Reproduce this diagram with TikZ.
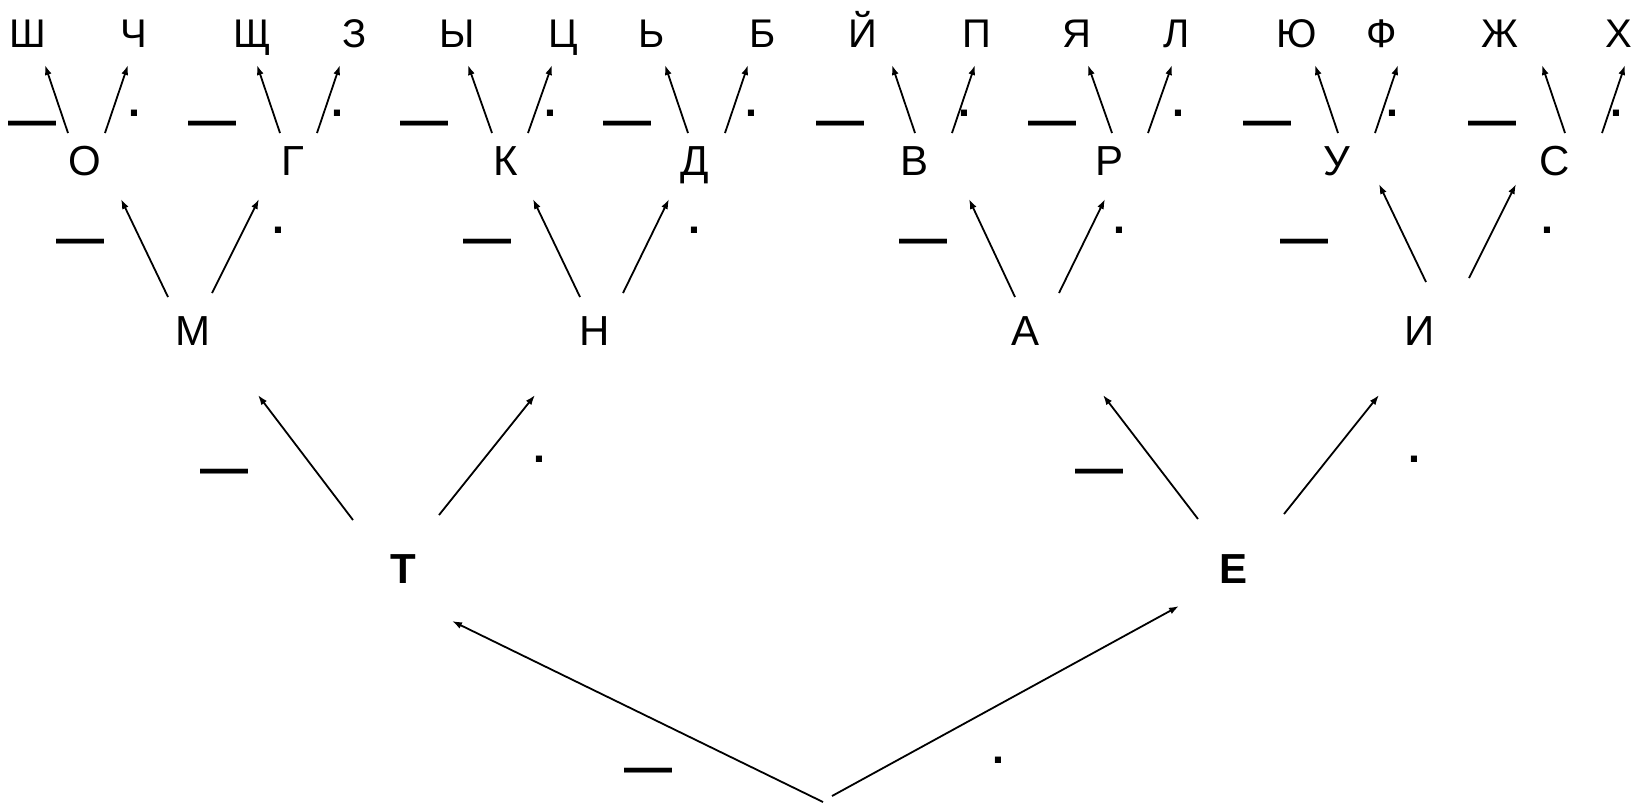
\documentclass[tikz,border=0pt]{standalone}
\usepackage{fontspec}
\setmainfont{Liberation Sans}
\usetikzlibrary{arrows.meta}
\begin{document}
\begin{tikzpicture}[x=0.5pt,y=-0.5pt,
  leaf/.style={anchor=base, inner sep=0pt, font=\fontsize{20}{20}\selectfont},
  inode/.style={anchor=base, inner sep=0pt, font=\fontsize{21}{21}\selectfont},
  bnode/.style={anchor=base, inner sep=0pt, font=\fontsize{21}{21}\selectfont\bfseries},
  dashlbl/.style={anchor=mid, inner sep=0pt, font=\fontsize{24}{24}\selectfont\bfseries},
  dotlbl/.style={anchor=center, inner sep=0pt, font=\fontsize{21.5}{21.5}\selectfont\bfseries},
  arr/.style={-{Latex[length=5pt,width=3.5pt]}, line width=0.9pt}]
\useasboundingbox (0,0) rectangle (1637,805);
% leaves
\node[leaf] (l1) at (28,47) {Ш};
\node[leaf] (l2) at (134,47) {Ч};
\node[leaf] (l3) at (252,47) {Щ};
\node[leaf] (l4) at (355,47) {З};
\node[leaf] (l5) at (457,47) {Ы};
\node[leaf] (l6) at (563,47) {Ц};
\node[leaf] (l7) at (652,47) {Ь};
\node[leaf] (l8) at (763,47) {Б};
\node[leaf] (l9) at (863,47) {Й};
\node[leaf] (l10) at (977,47) {П};
\node[leaf] (l11) at (1077,47) {Я};
\node[leaf] (l12) at (1177,47) {Л};
\node[leaf] (l13) at (1297,47) {Ю};
\node[leaf] (l14) at (1382,47) {Ф};
\node[leaf] (l15) at (1500,47) {Ж};
\node[leaf] (l16) at (1619,47) {Х};
% level 4
\node[inode] (o) at (85,175) {О};
\node[inode] (g) at (293,175) {Г};
\node[inode] (k) at (506,175) {К};
\node[inode] (d) at (695,175) {Д};
\node[inode] (v) at (914,175) {В};
\node[inode] (r) at (1109,175) {Р};
\node[inode] (u) at (1337,175) {У};
\node[inode] (s) at (1555,175) {С};
% level 3
\node[inode] (m) at (193,345) {М};
\node[inode] (n) at (595,345) {Н};
\node[inode] (a) at (1025,345) {А};
\node[inode] (i) at (1420,345) {И};
% level 2
\node[bnode] (t) at (403,583) {Т};
\node[bnode] (e) at (1233,583) {Е};
\coordinate (root) at (827,800);
% labels level 4
\foreach \x/\nm in {33/q1,212/q2,424/q3,627/q4,840/q5,1052/q6,1267/q7,1492/q8}
  \node[dashlbl] (\nm) at (\x,131) {—};
\foreach \x/\nm in {134/p1,337/p2,550/p3,751/p4,964/p5,1178/p6,1392/p7,1616/p8}
  \node[dotlbl] (\nm) at (\x,113) {.};
% labels level 3
\foreach \x/\nm in {80/q9,487/q10,923/q11,1304/q12}
  \node[dashlbl] (\nm) at (\x,249) {—};
\foreach \x/\nm in {278/p9,694/p10,1119/p11,1547/p12}
  \node[dotlbl] (\nm) at (\x,230) {.};
% labels level 2
\node[dashlbl] (q13) at (224,479) {—};
\node[dotlbl] (p13) at (539,459) {.};
\node[dashlbl] (q14) at (1099,479) {—};
\node[dotlbl] (p14) at (1414,459) {.};
% labels root
\node[dashlbl] (q15) at (648,778) {—};
\node[dotlbl] (p15) at (998,760) {.};
% root arrows
\draw[arr] ([shift={(-4,2)}]root) -- ([shift={(49,38)}]t.base);
\draw[arr] ([shift={(5,-4)}]root) -- ([shift={(-54,23)}]e.base);
% level 2 arrows
\draw[arr] ([shift={(-50,-63)}]t.base) -- ([shift={(65,50)}]m.base);
\draw[arr] ([shift={(36,-68)}]t.base) -- ([shift={(-60,50)}]n.base);
\draw[arr] ([shift={(-35,-64)}]e.base) -- ([shift={(78,50)}]a.base);
\draw[arr] ([shift={(51,-69)}]e.base) -- ([shift={(-41,50)}]i.base);
% level 3 arrows
\draw[arr] ([shift={(-25,-48)}]m.base) -- ([shift={(36,24)}]o.base);
\draw[arr] ([shift={(19,-52)}]m.base) -- ([shift={(-34,24)}]g.base);
\draw[arr] ([shift={(-15,-48)}]n.base) -- ([shift={(27,24)}]k.base);
\draw[arr] ([shift={(28,-52)}]n.base) -- ([shift={(-26,24)}]d.base);
\draw[arr] ([shift={(-10,-48)}]a.base) -- ([shift={(55,24)}]v.base);
\draw[arr] ([shift={(34,-52)}]a.base) -- ([shift={(-4,24)}]r.base);
\draw[arr] ([shift={(6,-63)}]i.base) -- ([shift={(42,9)}]u.base);
\draw[arr] ([shift={(49,-67)}]i.base) -- ([shift={(-39,9)}]s.base);
% level 4 arrows
\draw[arr] ([shift={(-17,-42)}]o.base) -- ([shift={(17,18)}]l1.base);
\draw[arr] ([shift={(20,-42)}]o.base) -- ([shift={(-6,18)}]l2.base);
\draw[arr] ([shift={(-13,-42)}]g.base) -- ([shift={(5,18)}]l3.base);
\draw[arr] ([shift={(24,-42)}]g.base) -- ([shift={(-15,18)}]l4.base);
\draw[arr] ([shift={(-14,-42)}]k.base) -- ([shift={(11,18)}]l5.base);
\draw[arr] ([shift={(22,-42)}]k.base) -- ([shift={(-11,18)}]l6.base);
\draw[arr] ([shift={(-7,-42)}]d.base) -- ([shift={(13,18)}]l7.base);
\draw[arr] ([shift={(30,-42)}]d.base) -- ([shift={(-15,18)}]l8.base);
\draw[arr] ([shift={(1,-42)}]v.base) -- ([shift={(29,18)}]l9.base);
\draw[arr] ([shift={(38,-42)}]v.base) -- ([shift={(-2,18)}]l10.base);
\draw[arr] ([shift={(3,-42)}]r.base) -- ([shift={(11,18)}]l11.base);
\draw[arr] ([shift={(39,-42)}]r.base) -- ([shift={(-5,18)}]l12.base);
\draw[arr] ([shift={(1,-42)}]u.base) -- ([shift={(18,18)}]l13.base);
\draw[arr] ([shift={(38,-42)}]u.base) -- ([shift={(16,18)}]l14.base);
\draw[arr] ([shift={(10,-42)}]s.base) -- ([shift={(42,18)}]l15.base);
\draw[arr] ([shift={(47,-42)}]s.base) -- ([shift={(6,18)}]l16.base);
\end{tikzpicture}
\end{document}
